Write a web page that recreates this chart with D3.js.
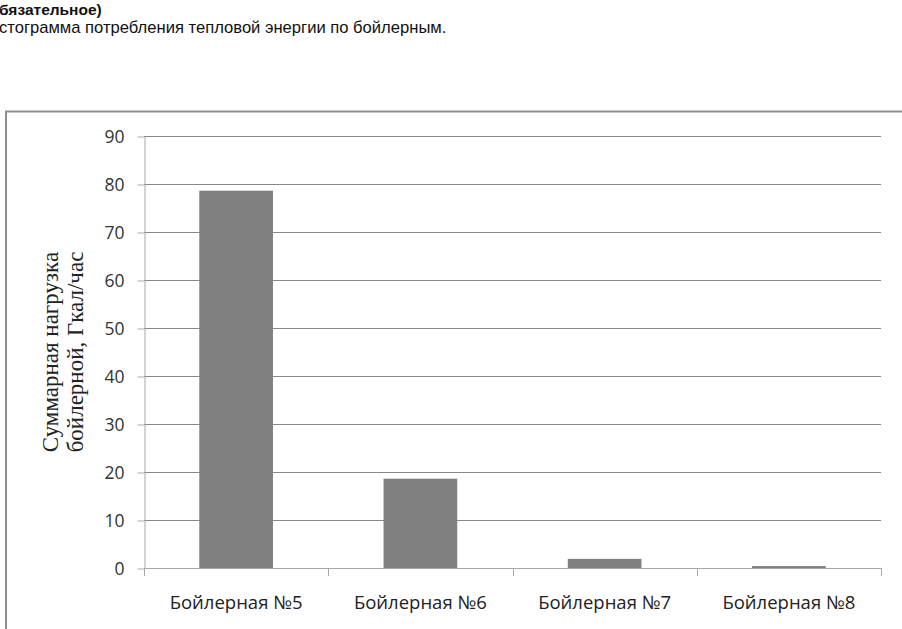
<!DOCTYPE html>
<html>
<head>
<meta charset="utf-8">
<script src="https://cdn.jsdelivr.net/npm/d3@7"></script>
<style>
  html, body { margin: 0; padding: 0; background: #fff; overflow: hidden; }
  svg { display: block; }
</style>
</head>
<body>
<svg id="chart" width="902" height="629"></svg>
<script>
// Heat load per boiler house, Gcal/h
const categories = ["Бойлерная №5", "Бойлерная №6", "Бойлерная №7", "Бойлерная №8"];
const values = [78.6, 18.6, 1.9, 0.4];
const yTicks = [0, 10, 20, 30, 40, 50, 60, 70, 80, 90];
const headerLines = ["бязательное)", "стограмма потребления тепловой энергии по бойлерным."];
const yTitleLines = ["Суммарная нагрузка", "бойлерной, Гкал/час"];

const svg = d3.select("#chart");

// Document header above the chart
svg.append("text")
  .attr("x", -1).attr("y", 15)
  .attr("font-family", "Liberation Sans, Arial, sans-serif")
  .attr("font-size", 15.5).attr("font-weight", "bold").attr("fill", "#111")
  .text(headerLines[0]);
svg.append("text")
  .attr("x", -1).attr("y", 33)
  .attr("font-family", "Liberation Sans, Arial, sans-serif")
  .attr("font-size", 16.6).attr("fill", "#111")
  .text(headerLines[1]);

// Chart frame (runs off the right and bottom edges)
svg.append("path")
  .attr("d", "M6,700 L6,111.5 L910,111.5")
  .attr("fill", "none").attr("stroke", "#8e8e8e").attr("stroke-width", 2);

const plot = { left: 144, right: 881, top: 136, bottom: 568 };

const x = d3.scaleBand()
  .domain(categories)
  .range([plot.left, plot.right])
  .paddingInner(0.6)
  .paddingOuter(0.3);

const y = d3.scaleLinear()
  .domain([0, 90])
  .range([plot.bottom, plot.top]);

const tickFont = "'Open Sans', Lato, sans-serif";

// Horizontal gridlines
svg.append("g")
  .selectAll("line")
  .data(yTicks.filter(d => d > 0))
  .join("line")
  .attr("x1", plot.left).attr("x2", plot.right)
  .attr("y1", d => Math.round(y(d)) + 0.5).attr("y2", d => Math.round(y(d)) + 0.5)
  .attr("stroke", "#888").attr("stroke-width", 1);

// Bars
svg.append("g")
  .selectAll("rect")
  .data(values)
  .join("rect")
  .attr("x", (d, i) => x(categories[i]))
  .attr("width", x.bandwidth())
  .attr("y", d => y(d))
  .attr("height", d => y(0) - y(d))
  .attr("fill", "#808080");

// Y axis
const yAxis = d3.axisLeft(y)
  .tickValues(yTicks)
  .tickSize(7)
  .tickPadding(13)
  .tickSizeOuter(0);
const gy = svg.append("g")
  .attr("transform", `translate(${plot.left + 0.5},0.5)`)
  .call(yAxis);
gy.select(".domain").attr("stroke", "#a8a8a8");
gy.selectAll(".tick line").attr("stroke", "#a8a8a8");
gy.selectAll(".tick text")
  .attr("font-family", tickFont).attr("font-size", 17.5).attr("fill", "#333");

// X axis: ticks mark the category boundaries
const gx = svg.append("g");
gx.append("line")
  .attr("x1", plot.left).attr("x2", plot.right)
  .attr("y1", y(0) + 0.5).attr("y2", y(0) + 0.5)
  .attr("stroke", "#a8a8a8");
gx.selectAll("line.b")
  .data(d3.range(categories.length + 1))
  .join("line")
  .attr("class", "b")
  .attr("x1", i => Math.round(plot.left + i * x.step()) + 0.5)
  .attr("x2", i => Math.round(plot.left + i * x.step()) + 0.5)
  .attr("y1", y(0)).attr("y2", y(0) + 8)
  .attr("stroke", "#a8a8a8");
gx.selectAll("text")
  .data(categories)
  .join("text")
  .attr("x", d => x(d) + x.bandwidth() / 2)
  .attr("y", 609)
  .attr("text-anchor", "middle")
  .attr("font-family", tickFont).attr("font-size", 18.5).attr("fill", "#222")
  .text(d => d);

// Y axis title, two lines, rotated
const midY = (plot.top + plot.bottom) / 2;
const title = svg.append("text")
  .attr("transform", `translate(58,${midY}) rotate(-90)`)
  .attr("text-anchor", "middle")
  .attr("font-family", "Liberation Serif, 'Times New Roman', serif")
  .attr("font-size", 23).attr("fill", "#222");
title.selectAll("tspan")
  .data(yTitleLines)
  .join("tspan")
  .attr("x", 0)
  .attr("dy", (d, i) => i === 0 ? 0 : 25)
  .text(d => d);
</script>
</body>
</html>
